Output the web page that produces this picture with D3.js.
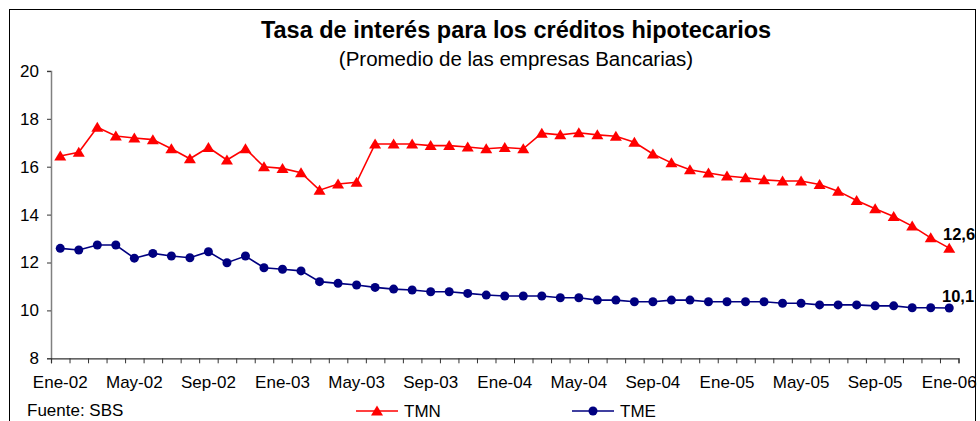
<!DOCTYPE html>
<html>
<head>
<meta charset="utf-8">
<script src="https://cdn.jsdelivr.net/npm/d3@7"></script>
<style>
  html, body { margin: 0; padding: 0; background: #fff; }
  svg { display: block; font-family: "Liberation Sans", Arial, sans-serif; }
</style>
</head>
<body>
<div id="chart"></div>
<script>
// Tasa de interés hipotecaria, promedio mensual (Ene-02 .. Ene-06)
const months = [
  'Ene-02','Feb-02','Mar-02','Abr-02','May-02','Jun-02','Jul-02','Ago-02','Sep-02','Oct-02','Nov-02','Dic-02',
  'Ene-03','Feb-03','Mar-03','Abr-03','May-03','Jun-03','Jul-03','Ago-03','Sep-03','Oct-03','Nov-03','Dic-03',
  'Ene-04','Feb-04','Mar-04','Abr-04','May-04','Jun-04','Jul-04','Ago-04','Sep-04','Oct-04','Nov-04','Dic-04',
  'Ene-05','Feb-05','Mar-05','Abr-05','May-05','Jun-05','Jul-05','Ago-05','Sep-05','Oct-05','Nov-05','Dic-05',
  'Ene-06'
];
const tickLabels = ['Ene-02','May-02','Sep-02','Ene-03','May-03','Sep-03','Ene-04','May-04','Sep-04','Ene-05','May-05','Sep-05','Ene-06'];

const tmn = [
  16.45, 16.6, 17.65, 17.28, 17.2, 17.13, 16.75, 16.33, 16.8, 16.28, 16.75, 16.0,
  15.93, 15.75, 15.02, 15.28, 15.35, 16.95, 16.95, 16.95, 16.88, 16.88, 16.82, 16.75,
  16.8, 16.75, 17.4, 17.33, 17.42, 17.33, 17.27, 17.02, 16.53, 16.16, 15.87, 15.74,
  15.61, 15.54, 15.45, 15.4, 15.4, 15.26, 14.98, 14.59, 14.24, 13.92, 13.52, 13.03,
  12.6
];
const tme = [
  12.59, 12.52, 12.73, 12.73, 12.18, 12.38, 12.27, 12.2, 12.45, 11.99, 12.27, 11.78,
  11.72, 11.65, 11.2, 11.13, 11.06, 10.96, 10.89, 10.85, 10.78, 10.78, 10.71, 10.64,
  10.6, 10.6, 10.6, 10.53, 10.53, 10.43, 10.43, 10.36, 10.36, 10.43, 10.43, 10.36,
  10.36, 10.36, 10.36, 10.3, 10.3, 10.23, 10.23, 10.23, 10.19, 10.19, 10.11, 10.11,
  10.1
];
const yTicks = [8, 10, 12, 14, 16, 18, 20];
const endLabels = ['12,6', '10,1'];

const width = 980, height = 421;
const plot = { left: 51, right: 958.5, top: 70.9, bottom: 358.3 };
const FONT = '"Liberation Sans", Arial, sans-serif';

const svg = d3.select('#chart').append('svg')
  .attr('width', width)
  .attr('height', height);

// outer frame
svg.append('rect')
  .attr('x', 9.5).attr('y', 9.5)
  .attr('width', 966).attr('height', 430)
  .attr('fill', 'none')
  .attr('stroke', '#000')
  .attr('stroke-width', 1);

// titles
svg.append('text')
  .attr('x', 516).attr('y', 38)
  .attr('text-anchor', 'middle')
  .attr('font-size', '23.5px')
  .attr('font-weight', 'bold')
  .text('Tasa de interés para los créditos hipotecarios');

svg.append('text')
  .attr('x', 516).attr('y', 66)
  .attr('text-anchor', 'middle')
  .attr('font-size', '20.5px')
  .text('(Promedio de las empresas Bancarias)');

// scales
const x = d3.scaleBand().domain(months).range([plot.left, plot.right]).padding(0);
const xc = d => x(d) + x.bandwidth() / 2;
const xEdge = d3.scaleLinear().domain([0, months.length]).range([plot.left, plot.right]);
const y = d3.scaleLinear().domain([8, 20]).range([plot.bottom, plot.top]);

// y axis
const yAxis = svg.append('g')
  .attr('transform', `translate(${plot.left},0)`)
  .call(d3.axisLeft(y).tickValues(yTicks).tickSize(4).tickPadding(8).tickFormat(d3.format('d')));
yAxis.select('.domain').attr('stroke', '#808080').attr('stroke-width', 1.5);
yAxis.selectAll('.tick line').attr('stroke', '#333');
yAxis.selectAll('.tick text').attr('font-size', '17px').attr('fill', '#000').attr('font-family', FONT);

// x axis: ticks between categories
const xAxis = svg.append('g')
  .attr('transform', `translate(0,${plot.bottom})`)
  .call(d3.axisBottom(xEdge).tickValues(d3.range(months.length + 1)).tickSize(5).tickFormat(''));
xAxis.select('.domain').attr('stroke', '#333').attr('stroke-width', 1.2);
xAxis.selectAll('.tick line').attr('stroke', '#333');

// x labels every 4 months
const xLab = svg.append('g')
  .attr('transform', `translate(0,${plot.bottom})`)
  .call(d3.axisBottom(x).tickValues(tickLabels).tickSize(0).tickPadding(18));
xLab.select('.domain').remove();
xLab.selectAll('.tick text').attr('font-size', '17px').attr('fill', '#000').attr('font-family', FONT);

// series
const triangle = 'M0,-5.5L6,4.5L-6,4.5Z';
const series = [
  { name: 'TMN', values: tmn, color: '#FF0000', marker: 'tri' },
  { name: 'TME', values: tme, color: '#000080', marker: 'dot' }
];

const line = d3.line()
  .x((d, i) => xc(months[i]))
  .y(d => y(d));

series.forEach(s => {
  const g = svg.append('g').attr('class', 'series');
  g.append('path')
    .datum(s.values)
    .attr('fill', 'none')
    .attr('stroke', s.color)
    .attr('stroke-width', 1.6)
    .attr('d', line);

  if (s.marker === 'tri') {
    g.selectAll('path.m').data(s.values).enter()
      .append('path')
      .attr('class', 'm')
      .attr('d', triangle)
      .attr('fill', s.color)
      .attr('transform', (d, i) => `translate(${xc(months[i])},${y(d)})`);
  } else {
    g.selectAll('circle').data(s.values).enter()
      .append('circle')
      .attr('cx', (d, i) => xc(months[i]))
      .attr('cy', d => y(d))
      .attr('r', 4.5)
      .attr('fill', s.color);
  }
});

// end value labels
const last = months.length - 1;
svg.append('text')
  .attr('x', 943).attr('y', y(tmn[last]) - 8)
  .attr('font-size', '16.5px').attr('font-weight', 'bold')
  .text(endLabels[0]);
svg.append('text')
  .attr('x', 942).attr('y', y(tme[last]) - 6)
  .attr('font-size', '16.5px').attr('font-weight', 'bold')
  .text(endLabels[1]);

// footer: source + legend
svg.append('text')
  .attr('x', 27).attr('y', 416)
  .attr('font-size', '17px')
  .text('Fuente: SBS');

const legend = [
  { s: series[0], x0: 356 },
  { s: series[1], x0: 572 }
];
legend.forEach(l => {
  const g = svg.append('g').attr('transform', `translate(${l.x0},411)`);
  g.append('line')
    .attr('x1', 0).attr('x2', 42)
    .attr('stroke', l.s.color).attr('stroke-width', 1.6);
  if (l.s.marker === 'tri') {
    g.append('path').attr('d', triangle).attr('fill', l.s.color).attr('transform', 'translate(21,0)');
  } else {
    g.append('circle').attr('cx', 21).attr('r', 4.5).attr('fill', l.s.color);
  }
  g.append('text')
    .attr('x', 48).attr('y', 6)
    .attr('font-size', '17px')
    .text(l.s.name);
});
</script>
</body>
</html>
